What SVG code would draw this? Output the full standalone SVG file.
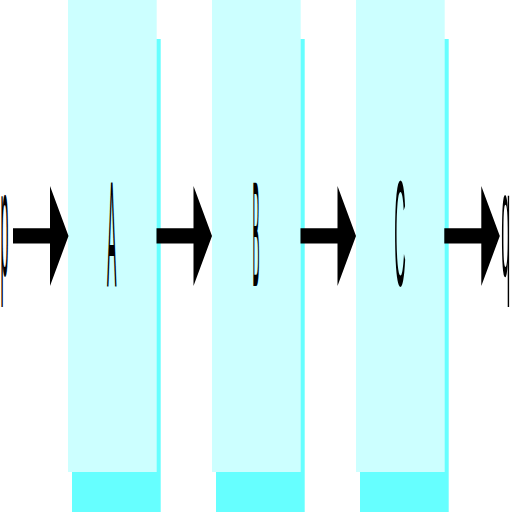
<svg xmlns="http://www.w3.org/2000/svg" xmlns:xlink="http://www.w3.org/1999/xlink" width="512" height="512" viewBox="0 0 512 512">
<style>
.box{fill:#ccffff}
.shadow{fill:#66ffff}
.lbl{font-family:"Liberation Sans",Arial,sans-serif;font-size:150px;fill:#000}
.arr{fill:#000}
</style>
<defs>
<path id="arrow" d="M0,228.3 L37,228.3 L37,186 L55.5,236 L37,286 L37,243.5 L0,243.5 Z"/>
</defs>
<rect width="512" height="512" fill="#fff"/>
<g id="nodeA">
<rect class="shadow" x="72" y="39" width="88.7" height="480"/>
<rect class="box" x="68" y="-1" width="88.7" height="473"/>
<text class="lbl" x="107" y="286" textLength="9.5" lengthAdjust="spacingAndGlyphs">A</text>
</g>
<g id="nodeB">
<rect class="shadow" x="216" y="39" width="88.7" height="480"/>
<rect class="box" x="212" y="-1" width="88.7" height="473"/>
<text class="lbl" x="252.5" y="286" textLength="7" lengthAdjust="spacingAndGlyphs">B</text>
</g>
<g id="nodeC">
<rect class="shadow" x="360" y="39" width="88.7" height="480"/>
<rect class="box" x="356" y="-1" width="88.7" height="473"/>
<text class="lbl" x="394.3" y="286" textLength="11.5" lengthAdjust="spacingAndGlyphs">C</text>
</g>
<g id="nodeP">
<text class="lbl" x="0.5" y="276" textLength="8" lengthAdjust="spacingAndGlyphs">p</text>
</g>
<g id="nodeQ">
<text class="lbl" x="501.3" y="276" textLength="9" lengthAdjust="spacingAndGlyphs">q</text>
</g>
<g id="connectors" class="arr">
<use xlink:href="#arrow" x="13"/>
<use xlink:href="#arrow" x="156.5"/>
<use xlink:href="#arrow" x="300.5"/>
<use xlink:href="#arrow" x="444.3"/>
</g>
</svg>
